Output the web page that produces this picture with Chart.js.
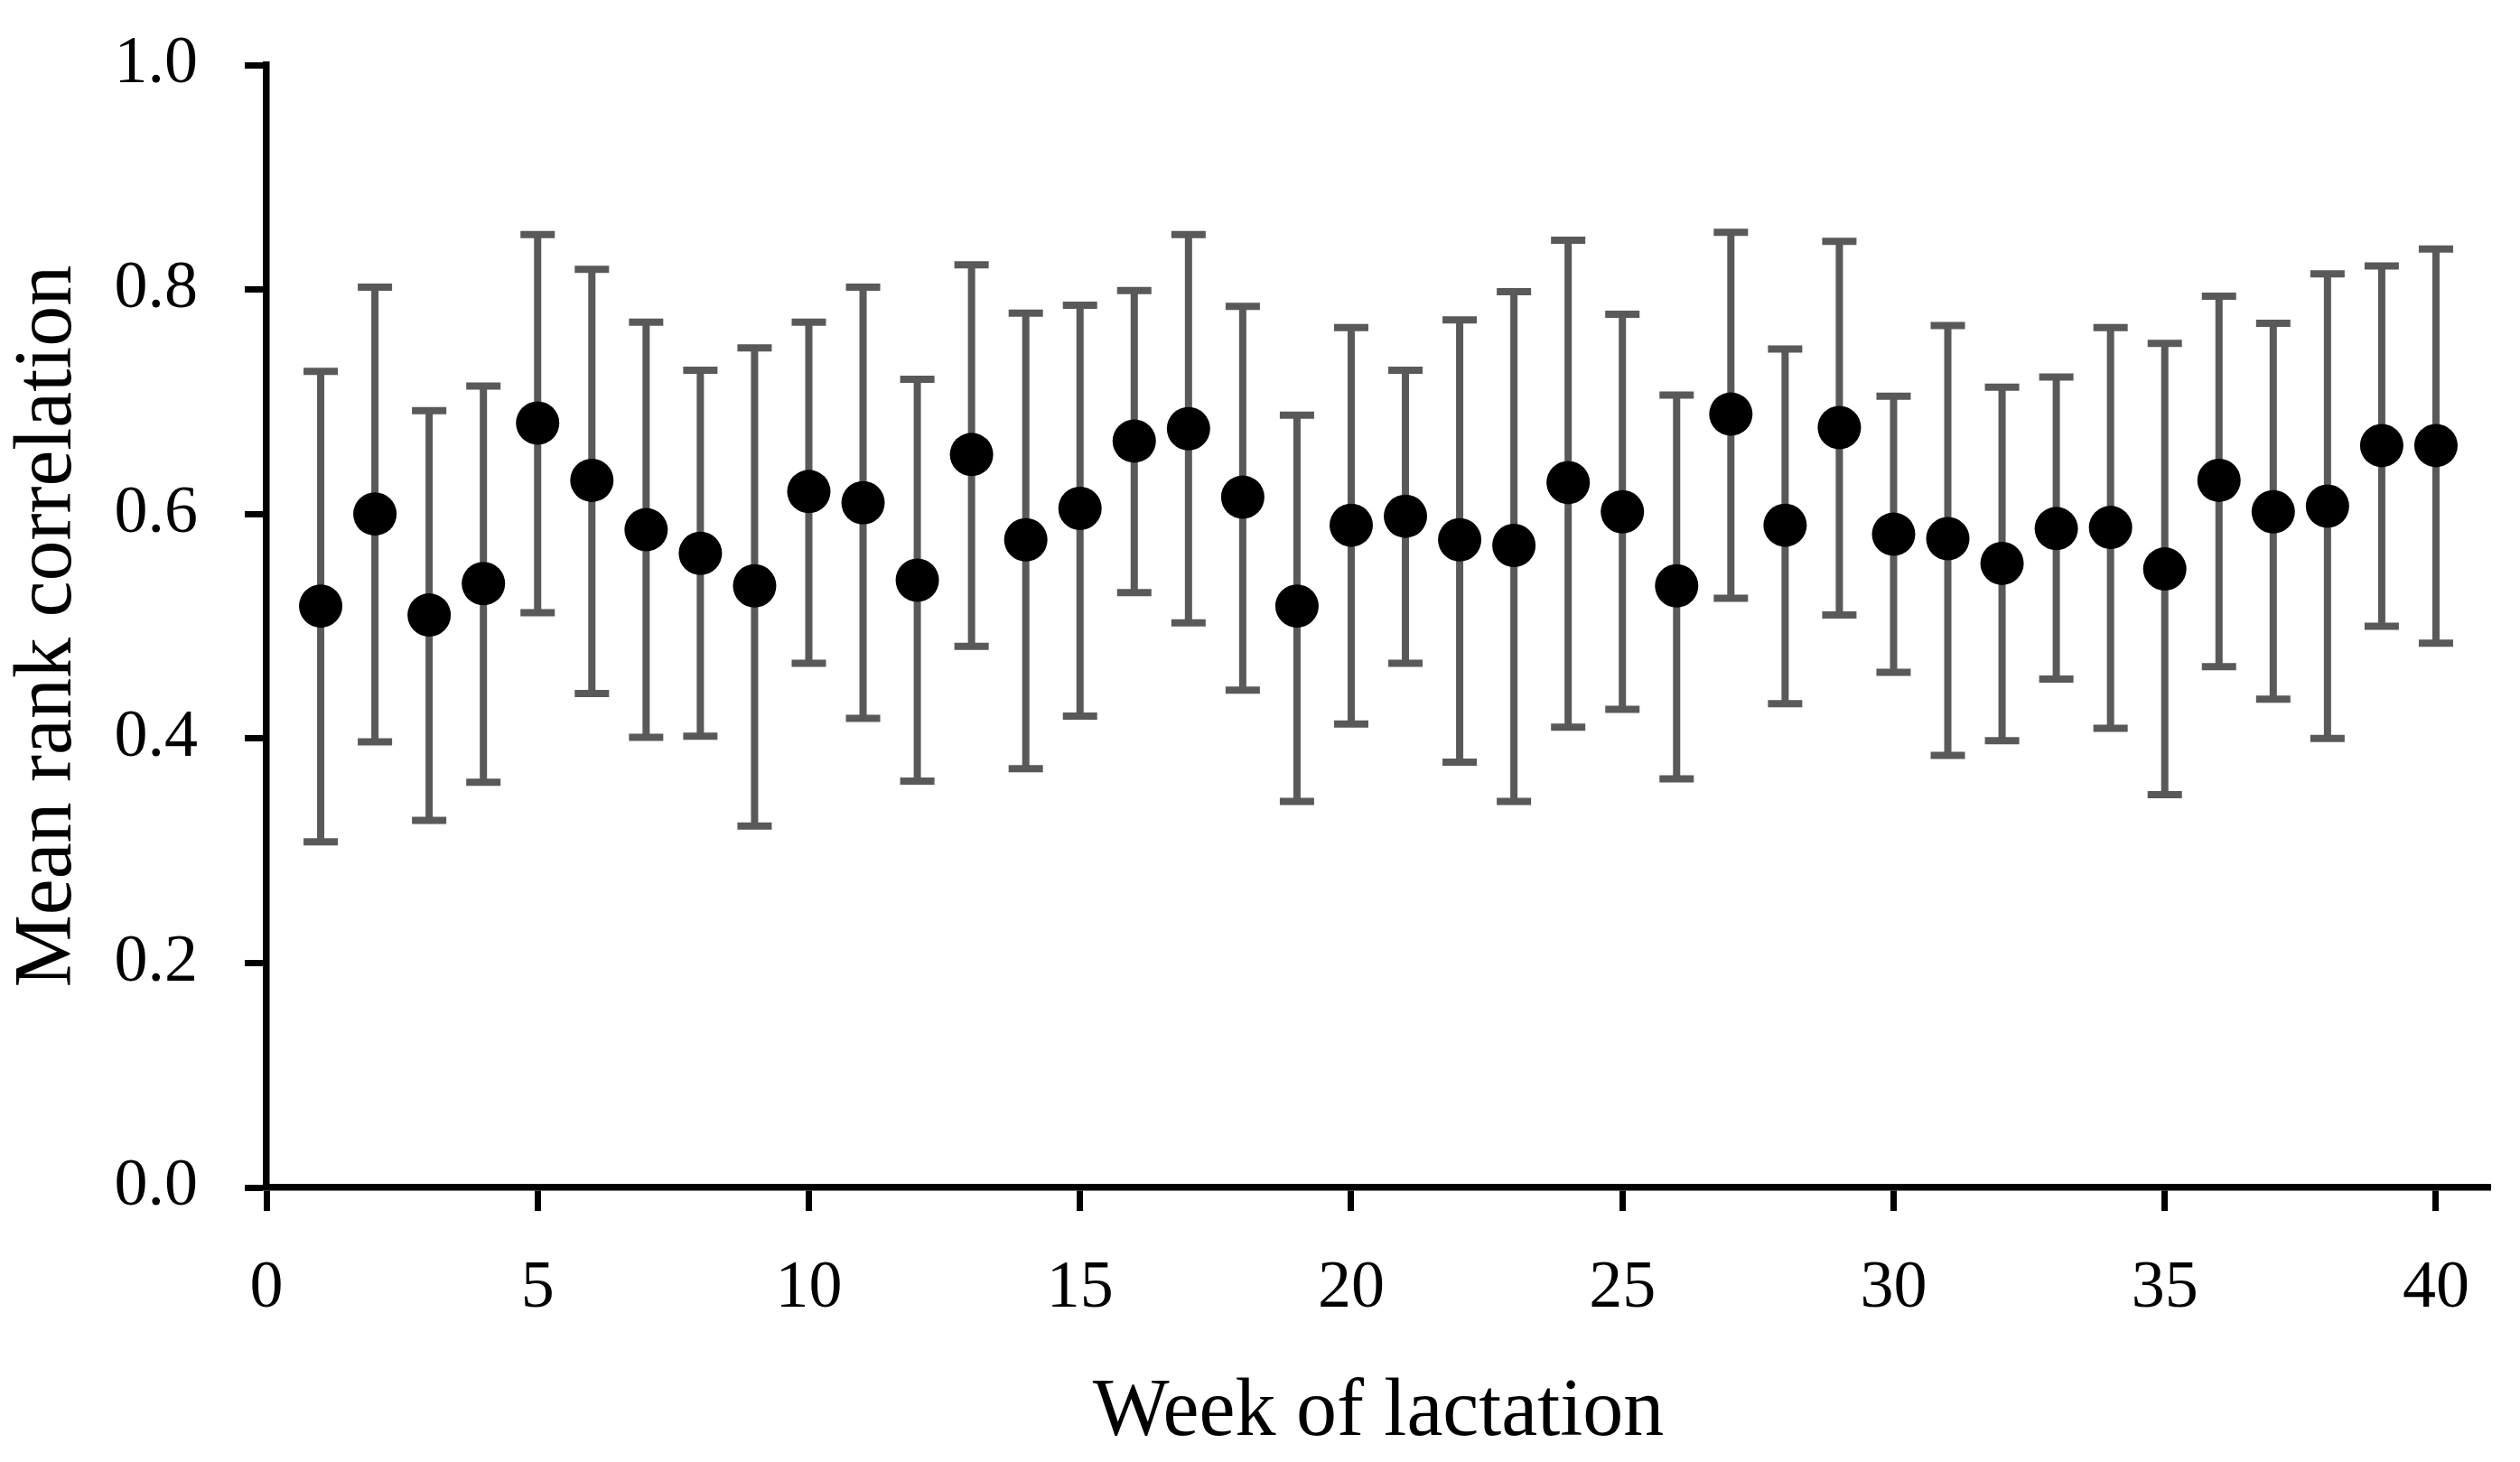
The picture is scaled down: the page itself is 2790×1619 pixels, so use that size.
<!DOCTYPE html>
<html>
<head>
<meta charset="utf-8">
<script src="https://cdn.jsdelivr.net/npm/chart.js@4.4.1/dist/chart.umd.min.js"></script>
<style>
  html, body { margin: 0; padding: 0; background: #fff; }
  #wrap { width: 2790px; height: 1619px; }
</style>
</head>
<body>
<div id="wrap"><canvas id="chart" width="2790" height="1619"></canvas></div>
<script>
const weeks = [1,2,3,4,5,6,7,8,9,10,11,12,13,14,15,16,17,18,19,20,21,22,23,24,25,26,27,28,29,30,31,32,33,34,35,36,37,38,39,40];
const meanCorr = [0.518,0.600,0.510,0.538,0.681,0.630,0.586,0.565,0.536,0.620,0.610,0.541,0.653,0.577,0.605,0.665,0.676,0.615,0.518,0.590,
                  0.598,0.577,0.572,0.628,0.602,0.536,0.689,0.590,0.677,0.582,0.578,0.556,0.587,0.588,0.551,0.630,0.602,0.607,0.661,0.661];
const upperBar = [0.727,0.802,0.692,0.714,0.849,0.818,0.771,0.728,0.748,0.771,0.802,0.720,0.822,0.779,0.786,0.799,0.849,0.785,0.688,0.766,
                  0.728,0.773,0.798,0.844,0.778,0.706,0.851,0.747,0.843,0.705,0.768,0.713,0.722,0.766,0.752,0.794,0.770,0.814,0.821,0.836];
const lowerBar = [0.308,0.397,0.327,0.361,0.512,0.440,0.401,0.402,0.322,0.467,0.418,0.362,0.482,0.373,0.420,0.530,0.503,0.443,0.344,0.413,
                  0.467,0.379,0.344,0.410,0.426,0.364,0.525,0.431,0.510,0.459,0.385,0.398,0.453,0.409,0.350,0.464,0.435,0.400,0.500,0.485];
const xTicks = [0,5,10,15,20,25,30,35,40];
const yTicks = [0.0,0.2,0.4,0.6,0.8,1.0];

const FONT = '"Liberation Serif", "DejaVu Serif", serif';

// error bars drawn behind the points
const errorBars = {
  id: 'errorBars',
  beforeDatasetsDraw(chart) {
    const {ctx, scales: {x, y}} = chart;
    ctx.save();
    ctx.strokeStyle = '#595959';
    ctx.lineWidth = 8;
    ctx.lineCap = 'butt';
    const cap = 19;
    weeks.forEach((w, i) => {
      const px = x.getPixelForValue(w);
      const top = y.getPixelForValue(upperBar[i]);
      const bot = y.getPixelForValue(lowerBar[i]);
      ctx.beginPath();
      ctx.moveTo(px, top); ctx.lineTo(px, bot);
      ctx.moveTo(px - cap, top); ctx.lineTo(px + cap, top);
      ctx.moveTo(px - cap, bot); ctx.lineTo(px + cap, bot);
      ctx.stroke();
    });
    ctx.restore();
  }
};

new Chart(document.getElementById('chart'), {
  type: 'scatter',
  data: {
    datasets: [{
      data: weeks.map((w, i) => ({x: w, y: meanCorr[i]})),
      pointRadius: 24,
      pointHoverRadius: 24,
      pointBackgroundColor: '#000',
      pointBorderWidth: 0,
      showLine: false
    }]
  },
  options: {
    responsive: false,
    devicePixelRatio: 1,
    animation: false,
    layout: { padding: { top: 0, right: 33, left: 0, bottom: 0 } },
    plugins: { legend: { display: false }, tooltip: { enabled: false } },
    scales: {
      x: {
        type: 'linear',
        min: 0,
        max: 41,
        afterBuildTicks: (s) => { s.ticks = xTicks.map(v => ({value: v})); },
        afterFit: (s) => { s.height = 304; },
        border: { display: true, color: '#000', width: 7.5 },
        grid: { drawOnChartArea: false, drawTicks: true, tickLength: 26, tickWidth: 7, tickColor: '#000' },
        ticks: { color: '#000', font: { family: FONT, size: 74 }, padding: 42, maxRotation: 0 },
        title: { display: true, text: 'Week of lactation', color: '#000', font: { family: FONT, size: 90 }, padding: { top: 20, bottom: 0 } }
      },
      y: {
        type: 'linear',
        min: 0,
        max: 1,
        afterBuildTicks: (s) => { s.ticks = yTicks.map(v => ({value: v})); },
        // fixed axis width, and the top of the plot where the 1.0 tick sits
        afterFit: (s) => { s.width = 295; s.paddingTop = 72; },
        border: { display: true, color: '#000', width: 7.5 },
        grid: { drawOnChartArea: false, drawTicks: true, tickLength: 24, tickWidth: 7, tickColor: '#000' },
        ticks: { color: '#000', font: { family: FONT, size: 74 }, padding: 52, callback: (v) => v.toFixed(1) },
        title: { display: true, text: 'Mean rank correlation', color: '#000', font: { family: FONT, size: 90 }, padding: { top: 0, bottom: 0 } }
      }
    }
  },
  plugins: [errorBars]
});
</script>
</body>
</html>
